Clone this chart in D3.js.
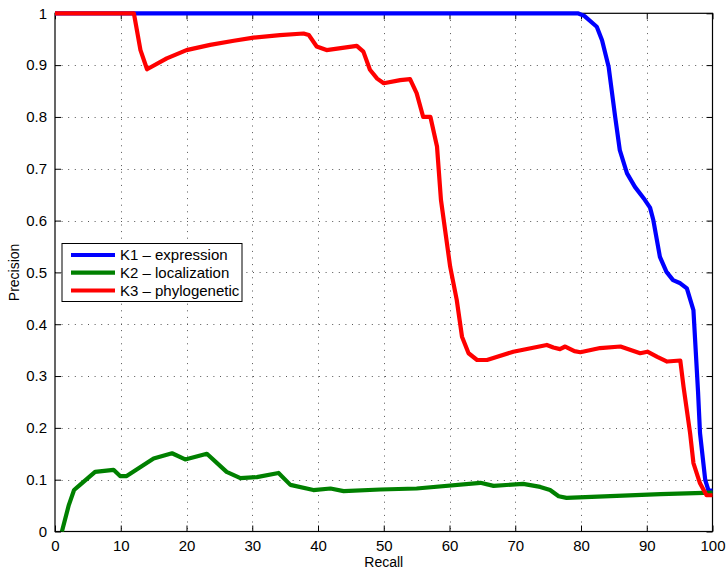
<!DOCTYPE html>
<html>
<head>
<meta charset="utf-8">
<script src="https://cdn.jsdelivr.net/npm/d3@7"></script>
<style>
html,body{margin:0;padding:0;background:#fff;}
svg{display:block;font-family:"Liberation Sans",Arial,Helvetica,sans-serif;}
</style>
</head>
<body>
<svg id="chart" width="727" height="570"></svg>
<script>
// ---- data ----
const xTicks = [0,10,20,30,40,50,60,70,80,90,100];
const yTicks = [0,0.1,0.2,0.3,0.4,0.5,0.6,0.7,0.8,0.9,1];
const seriesNames = ["K1 \u2013 expression","K2 \u2013 localization","K3 \u2013 phylogenetic"];
const seriesColors = ["#0000ff","#008000","#ff0000"];

const k1Recall = [0,79.5,80.5,82.4,83.2,84.2,85.2,85.9,87.0,88.2,89.7,90.5,91.0,92.0,93.0,94.0,95.1,96.1,97.1,97.8,98.1,98.9,99.4,100];
const k1Prec   = [1,1,0.995,0.974,0.948,0.897,0.800,0.736,0.691,0.665,0.640,0.625,0.601,0.530,0.501,0.485,0.479,0.469,0.427,0.27,0.19,0.099,0.079,0.079];

const k2Recall = [1.05,2.1,2.9,3.8,6.1,8.9,9.9,10.9,15.0,17.8,19.8,23.1,26.1,28.2,30.7,34.0,35.8,39.3,41.9,43.9,49.5,55.0,64.7,66.7,71.2,73.8,75.3,76.6,77.8,92.1,100];
const k2Prec   = [0,0.051,0.080,0.090,0.115,0.119,0.107,0.107,0.141,0.151,0.139,0.150,0.115,0.103,0.105,0.113,0.090,0.080,0.083,0.078,0.081,0.083,0.094,0.088,0.092,0.086,0.080,0.068,0.065,0.072,0.075];

const k3Recall = [0,12,13,14,17,20,23.6,27.2,30.2,34.2,37.8,38.6,39.8,41.3,45.9,46.9,47.9,49,50,52.5,54,55,56,57.1,58.1,58.7,60.1,61.1,61.9,62.9,64.2,65.7,69.7,74.8,75.8,76.8,77.6,79.0,79.9,82.9,86,89,90.1,91.6,93.1,95.1,95.6,96.6,97.1,98.1,99.1,100];
const k3Prec   = [1,1,0.929,0.892,0.913,0.929,0.939,0.947,0.953,0.958,0.961,0.958,0.936,0.929,0.937,0.926,0.891,0.874,0.865,0.871,0.873,0.846,0.800,0.800,0.743,0.640,0.511,0.447,0.376,0.344,0.331,0.331,0.347,0.360,0.355,0.352,0.357,0.348,0.346,0.354,0.357,0.344,0.347,0.337,0.328,0.330,0.279,0.189,0.132,0.093,0.070,0.070];

const series = [
  {name: seriesNames[0], color: seriesColors[0], xs: k1Recall, ys: k1Prec},
  {name: seriesNames[1], color: seriesColors[1], xs: k2Recall, ys: k2Prec},
  {name: seriesNames[2], color: seriesColors[2], xs: k3Recall, ys: k3Prec}
];

// ---- layout ----
const L = 55, R = 712.5, T = 13.3, B = 531.5;
const x = d3.scaleLinear().domain([0,100]).range([L,R]);
const y = d3.scaleLinear().domain([0,1]).range([B,T]);
const svg = d3.select("#chart");
const fmtY = d => d === 0 ? "0" : d === 1 ? "1" : d3.format(".1f")(d);

// grid
const grid = svg.append("g").attr("stroke","#555").attr("stroke-width",1).attr("stroke-dasharray","1,5.6");
grid.selectAll(".gx").data(xTicks.slice(1,-1)).enter().append("line")
  .attr("x1",d=>Math.round(x(d))+0.5).attr("x2",d=>Math.round(x(d))+0.5).attr("y1",T).attr("y2",B);
grid.selectAll(".gy").data(yTicks.slice(1,-1)).enter().append("line")
  .attr("y1",d=>Math.round(y(d))+0.5).attr("y2",d=>Math.round(y(d))+0.5).attr("x1",L).attr("x2",R);

// axes
const fs = 15;
const axB = svg.append("g").attr("transform",`translate(0,${B})`)
  .call(d3.axisBottom(x).tickValues(xTicks).tickSize(-6).tickPadding(9).tickFormat(d3.format("d")));
const axT = svg.append("g").attr("transform",`translate(0,${T})`)
  .call(d3.axisTop(x).tickValues(xTicks).tickSize(-6).tickFormat(""));
const axL = svg.append("g").attr("transform",`translate(${L},0)`)
  .call(d3.axisLeft(y).tickValues(yTicks).tickSize(-6).tickPadding(8).tickFormat(fmtY));
const axR = svg.append("g").attr("transform",`translate(${R},0)`)
  .call(d3.axisRight(y).tickValues(yTicks).tickSize(-6).tickFormat(""));
[axB,axT,axL,axR].forEach(a=>{
  a.select(".domain").remove();
  a.selectAll("line").attr("stroke","#000");
  a.selectAll("text").attr("font-size",fs).attr("fill","#000").attr("font-family","'Liberation Sans',Arial,sans-serif");
});

// box
svg.append("rect").attr("x",L).attr("y",T).attr("width",R-L).attr("height",B-T)
  .attr("fill","none").attr("stroke","#000").attr("stroke-width",1.2);

// lines
const line = d3.line().x(d=>x(d[0])).y(d=>y(d[1]));
series.forEach(s=>{
  const pts = s.xs.map((v,i)=>[v,s.ys[i]]);
  svg.append("path").datum(pts).attr("d",line)
    .attr("fill","none").attr("stroke",s.color).attr("stroke-width",4.2)
    .attr("stroke-linejoin","round").attr("stroke-linecap","butt");
});

// axis labels
svg.append("text").attr("x",(L+R)/2).attr("y",567).attr("text-anchor","middle")
  .attr("font-size",14).text("Recall");
svg.append("text").attr("transform",`translate(19,${(T+B)/2}) rotate(-90)`).attr("text-anchor","middle")
  .attr("font-size",14).text("Precision");

// legend
const lg = svg.append("g");
lg.append("rect").attr("x",62).attr("y",243.5).attr("width",180).attr("height",58)
  .attr("fill","#fff").attr("stroke","#000").attr("stroke-width",1);
const rowY = [255,272.7,290.5];
series.forEach((s,i)=>{
  lg.append("line").attr("x1",71).attr("x2",115).attr("y1",rowY[i]).attr("y2",rowY[i])
    .attr("stroke",s.color).attr("stroke-width",4.2);
  lg.append("text").attr("x",120).attr("y",rowY[i]).attr("dy","0.36em")
    .attr("font-size",fs).text(s.name);
});
</script>
</body>
</html>
